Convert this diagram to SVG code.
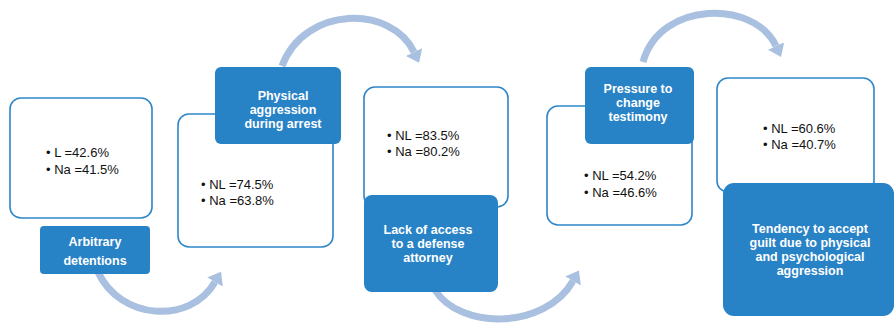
<svg xmlns="http://www.w3.org/2000/svg" width="894" height="329" viewBox="0 0 894 329">
<style>
.card{fill:#fff;stroke:#2E86C8;stroke-width:1.6}
.lab{fill:#2882C6}
.bt{font-family:"Liberation Sans",Arial,sans-serif;font-size:13px;fill:#111}
.tt{font-family:"Liberation Sans",Arial,sans-serif;font-size:12.5px;font-weight:bold;fill:#fff;text-anchor:middle}
.arc{fill:none;stroke:#A9C0E0;stroke-width:7;marker-end:url(#ah)}
</style>
<defs>
<marker id="ah" viewBox="0 0 12 18" refX="0" refY="9" markerWidth="12" markerHeight="18" markerUnits="userSpaceOnUse" orient="auto">
<path d="M0 0 L12 9 L0 18 z" fill="#A9C0E0"/>
</marker>
</defs>
<g id="connectors">
<path class="arc" d="M98 272 C120 320 190 325 215 282"/>
<path class="arc" d="M282 66 C305 5 392 5 414 52"/>
<path class="arc" d="M435 290 C460 330 545 330 573 281"/>
<path class="arc" d="M643 62 C660 0 755 0 776 46"/>
</g>
<g id="node1">
<rect class="card" x="10" y="98" width="142" height="120" rx="11"/>
<text class="bt" x="46" y="157">• L =42.6%</text>
<text class="bt" x="46" y="174">• Na =41.5%</text>
<rect class="lab" x="40" y="226" width="110" height="48" rx="4"/>
<text class="tt" x="95" y="246">Arbitrary</text>
<text class="tt" x="95" y="265">detentions</text>
</g>
<g id="node2">
<rect class="card" x="178" y="114" width="155" height="133" rx="11"/>
<text class="bt" x="201" y="189">• NL =74.5%</text>
<text class="bt" x="201" y="205">• Na =63.8%</text>
<rect class="lab" x="215" y="67" width="126" height="77" rx="6"/>
<text class="tt" x="283" y="100">Physical</text>
<text class="tt" x="283" y="114">aggression</text>
<text class="tt" x="283" y="128">during arrest</text>
</g>
<g id="node3">
<rect class="card" x="364" y="87" width="144" height="120" rx="11"/>
<text class="bt" x="387" y="140">• NL =83.5%</text>
<text class="bt" x="387" y="156">• Na =80.2%</text>
<rect class="lab" x="364" y="195" width="134" height="97" rx="8"/>
<text class="tt" x="428" y="234">Lack of access</text>
<text class="tt" x="428" y="248">to a defense</text>
<text class="tt" x="428" y="262">attorney</text>
</g>
<g id="node4">
<rect class="card" x="547" y="106" width="145" height="119" rx="11"/>
<text class="bt" x="584" y="180">• NL =54.2%</text>
<text class="bt" x="584" y="197">• Na =46.6%</text>
<rect class="lab" x="585" y="67" width="109" height="77" rx="6"/>
<text class="tt" x="638" y="93">Pressure to</text>
<text class="tt" x="638" y="107">change</text>
<text class="tt" x="638" y="121">testimony</text>
</g>
<g id="node5">
<rect class="card" x="717" y="78" width="157" height="114" rx="11"/>
<text class="bt" x="763" y="133">• NL =60.6%</text>
<text class="bt" x="763" y="149">• Na =40.7%</text>
<rect class="lab" x="723" y="183" width="171" height="133" rx="11"/>
<text class="tt" x="810" y="233">Tendency to accept</text>
<text class="tt" x="810" y="247">guilt due to physical</text>
<text class="tt" x="810" y="261">and psychological</text>
<text class="tt" x="810" y="275">aggression</text>
</g>
</svg>
